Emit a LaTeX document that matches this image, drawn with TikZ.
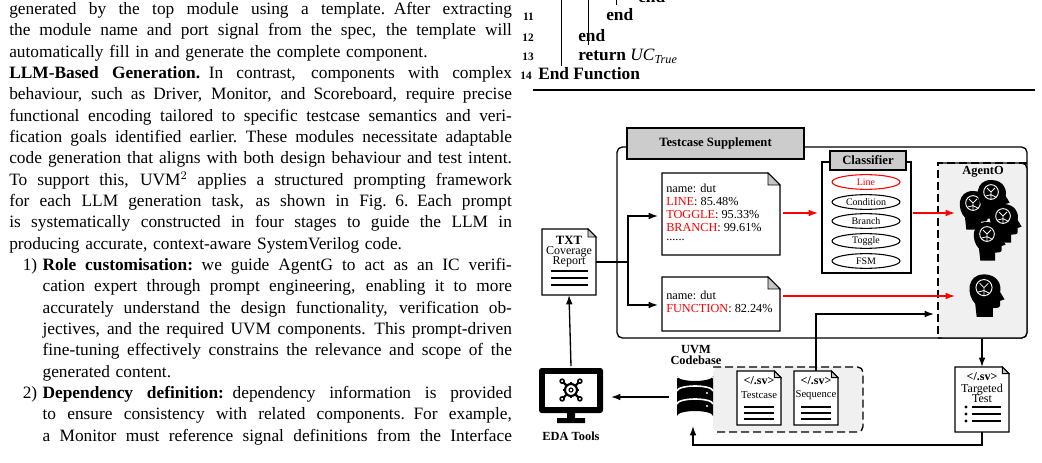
\documentclass[tikz,border=0pt]{standalone}
\usepackage{fontspec}
\setmainfont{Liberation Serif}
\usetikzlibrary{arrows.meta,shapes.geometric}
\newcommand\fsz[2]{\fontsize{#1}{#2}\selectfont}
\newcommand\jline[2]{\hbox to #1{\spaceskip=0.25em plus 1fil minus 0.08em #2}}
\newcommand\lastl[1]{\hbox{#1}}
\tikzset{
  arr/.style={-{Latex[length=7pt,width=5pt]},line width=1pt},
  rarr/.style={-{Latex[length=7pt,width=5pt]},line width=1pt,red},
  box/.style={draw,line width=1pt,inner sep=0,outer sep=0,anchor=north west},
  doc/.style={inner sep=0,outer sep=0,anchor=north west},
  ell/.style={draw,ellipse,line width=0.8pt,minimum width=51pt,minimum height=11pt,inner sep=0,font=\fsz{7.5}{8}},
  lbl/.style={font=\fsz{9.3}{10}\bfseries,inner sep=0},
}
\newcommand\docfold[2]{% node name, fold size
  \draw[line width=0.9pt,fill=white] (#1.north west) -- ([xshift=-#2]#1.north east) -- ([yshift=-#2]#1.north east) -- (#1.south east) -- (#1.south west) -- cycle;
  \draw[line width=0.7pt,fill=gray!45] ([xshift=-#2]#1.north east) -- ([yshift=-#2]#1.north east) -- ([xshift=-#2,yshift=-#2]#1.north east) -- cycle;}
\newcommand\myhead[3]{\begin{scope}[shift={(#1,#2)},x=#3pt,y=-#3pt]
  \fill[black] (-5,17) -- (-6,8) .. controls (-12,2) and (-12,-12) .. (0,-12) .. controls (10,-12) and (12,-4) .. (11,0) -- (14,5) -- (11,6) -- (11,9) .. controls (11,11) and (8,11) .. (6,11) -- (6,17) -- cycle;
  \draw[white,line width=0.7pt] (0,-3) circle (5.5);
  \draw[white,line width=0.6pt] (-3,-6) -- (0,-3) -- (3,-6) (0,-3) -- (0,3) (-4,0) -- (0,-1) -- (4,1);
\end{scope}}
\begin{document}
\begin{tikzpicture}[x=0.75pt,y=-0.75pt]
\useasboundingbox (0,0) rectangle (1042,463);
% ---------- left column text
\node[anchor=north west,inner sep=0,text width=377pt,font=\fsz{13}{16}] (col) at (9,2) {%
\vbox{\baselineskip=16pt
\jline{377pt}{generated by the top module using a template. After extracting}
\jline{377pt}{the module name and port signal from the spec, the template will}
\lastl{automatically fill in and generate the complete component.}
\jline{377pt}{\textbf{LLM-Based Generation.} In contrast, components with complex}
\jline{377pt}{behaviour, such as Driver, Monitor, and Scoreboard, require precise}
\jline{377pt}{functional encoding tailored to specific testcase semantics and veri-}
\jline{377pt}{fication goals identified earlier. These modules necessitate adaptable}
\jline{377pt}{code generation that aligns with both design behaviour and test intent.}
\jline{377pt}{To support this, UVM$^2$ applies a structured prompting framework}
\jline{377pt}{for each LLM generation task, as shown in Fig. 6. Each prompt}
\jline{377pt}{is systematically constructed in four stages to guide the LLM in}
\lastl{producing accurate, context-aware SystemVerilog code.}
\moveright25pt\jline{352pt}{\llap{1)\hspace{4pt}}\textbf{Role customisation:} we guide AgentG to act as an IC verifi-}
\moveright25pt\jline{352pt}{cation expert through prompt engineering, enabling it to more}
\moveright25pt\jline{352pt}{accurately understand the design functionality, verification ob-}
\moveright25pt\jline{352pt}{jectives, and the required UVM components. This prompt-driven}
\moveright25pt\jline{352pt}{fine-tuning effectively constrains the relevance and scope of the}
\moveright25pt\lastl{generated content.}
\moveright25pt\jline{352pt}{\llap{2)\hspace{4pt}}\textbf{Dependency definition:} dependency information is provided}
\moveright25pt\jline{352pt}{to ensure consistency with related components. For example,}
\moveright25pt\jline{352pt}{a Monitor must reference signal definitions from the Interface}
}};
% ---------- algorithm fragment
\begin{scope}[font=\fsz{13}{16}]
\draw[line width=0.6pt] (561,0) -- (561,66) (588,0) -- (588,45) (616,0) -- (616,5);
\node[anchor=base west,inner sep=0] (l10) at (638,3) {\textbf{end}};
\node[anchor=base east,inner sep=0,font=\fsz{8.5}{10}\bfseries] (n11) at (534,21) {11};
\node[anchor=base west,inner sep=0] (l11) at (606,21) {\textbf{end}};
\node[anchor=base east,inner sep=0,font=\fsz{8.5}{10}\bfseries] (n12) at (534,42) {12};
\node[anchor=base west,inner sep=0] (l12) at (578,42) {\textbf{end}};
\node[anchor=base east,inner sep=0,font=\fsz{8.5}{10}\bfseries] (n13) at (534,61) {13};
\node[anchor=base west,inner sep=0] (l13) at (578,61) {\textbf{return} \textit{UC}\textsubscript{\textit{True}}};
\node[anchor=base east,inner sep=0,font=\fsz{8.5}{10}\bfseries] (n14) at (532,80) {14};
\node[anchor=base west,inner sep=0] (l14) at (538,80) {\textbf{End Function}};
\draw[line width=1pt] (533,90) -- (1035,90);
\end{scope}
% ---------- diagram
\draw[line width=1pt,rounded corners=4pt] (617,147) rectangle (1027,338);
\fill[gray!12,rounded corners=4pt] (938,163) rectangle (1027,338);
\draw[line width=1pt,dash pattern=on 6pt off 3pt] (1027,163) -- (938,163) -- (938,338);
\draw[line width=1pt,rounded corners=4pt] (938,163) -- (1027,163) -- (1027,338) -- (938,338);
\node[lbl] (agento) at (983,172) {AgentO};
\node[box,fill=gray!40,minimum width=132.75pt,minimum height=23.25pt,font=\fsz{9.5}{10}\bfseries] (ts) at (627,128) {Testcase Supplement};
% coverage report
\node[doc,minimum width=40.5pt,minimum height=49.5pt] (rep) at (542,229) {};
\docfold{rep}{6pt}
\node[font=\fsz{9.5}{9}\bfseries,inner sep=0] (txt) at (569,240) {TXT};
\node[font=\fsz{9}{9},inner sep=0,align=center] (cov) at (569,257) {Coverage\\[-1.5pt]Report};
\draw[line width=0.8pt] (551,271) -- (588,271) (551,278) -- (588,278) (551,285) -- (588,285);
% doc1 / doc2
\node[doc,minimum width=88.5pt,minimum height=61.5pt] (d1) at (662,173) {};
\docfold{d1}{9pt}
\node[anchor=north west,inner sep=0,font=\fsz{9.2}{9.75},align=left] (d1t) at (666,184) {name: dut\\\textcolor{red}{LINE}: 85.48\%\\\textcolor{red}{TOGGLE}: 95.33\%\\\textcolor{red}{BRANCH}: 99.61\%\\[-3pt]......};
\node[doc,minimum width=88.5pt,minimum height=40.5pt] (d2) at (662,277) {};
\docfold{d2}{9pt}
\node[anchor=north west,inner sep=0,font=\fsz{9.2}{9.75},align=left] (d2t) at (666,291) {name: dut\\\textcolor{red}{FUNCTION}: 82.24\%};
\coordinate (br) at (628,262);
\draw[line width=1pt] (rep.east |- br) -- (br);
\draw[arr] (br) -- (628,216) -- (658,216);
\draw[arr] (br) -- (628,305) -- (658,305);
% classifier
\node[box,minimum width=66.75pt,minimum height=83.25pt] (cls) at (822,162) {};
\node[box,fill=gray!40,minimum width=57pt,minimum height=14.25pt,font=\fsz{9.5}{10}\bfseries] (clst) at (830,151) {Classifier};
\node[ell,red] (e1) at (866,182) {Line};
\node[ell] (e2) at (866,202) {Condition};
\node[ell] (e3) at (866,221) {Branch};
\node[ell] (e4) at (866,241) {Toggle};
\node[ell] (e5) at (866,261) {FSM};
\draw[rarr] (783,213) -- (818,213);
\draw[rarr] (913,213) -- (955,213);
% heads
\myhead{973}{207}{1.0}
\myhead{991}{196}{1.0}
\myhead{1003}{220}{1.0}
\myhead{987}{238}{1.0}
\myhead{984}{292}{1.1}
\coordinate (hd2) at (955,296);
\draw[rarr] (783,296) -- (hd2);
% codebase region
\fill[gray!12,rounded corners=4pt] (713,367) rectangle (863,432);
\draw[line width=1pt,dash pattern=on 6pt off 3pt,rounded corners=4pt] (713,367) -- (863,367) -- (863,432) -- (713,432);
\node[lbl,align=center] (uvm) at (696,355) {UVM\\[-1pt]Codebase};
% database
\node[inner sep=0,minimum width=27pt,minimum height=36pt] (db) at (695,396) {};
\fill[black] (677,376) -- (677,416) arc[start angle=180,end angle=360,x radius=18,y radius=5] -- (713,376) arc[start angle=0,end angle=180,x radius=18,y radius=5];
\draw[white,line width=1.2pt] (677,391) arc[start angle=180,end angle=360,x radius=18,y radius=5] (677,404) arc[start angle=180,end angle=360,x radius=18,y radius=5];
\draw[white,line width=0.8pt] (677,378) arc[start angle=180,end angle=360,x radius=18,y radius=4];
\fill[white] (707,393) circle (1.2) (707,406) circle (1.2);
% testcase / sequence docs
\node[doc,minimum width=33pt,minimum height=40.5pt] (tc) at (737,371) {};
\docfold{tc}{5pt}
\node[font=\fsz{9}{9}\bfseries,inner sep=0] (tcs) at (759,381) {</.sv>};
\node[font=\fsz{8}{9},inner sep=0] (tcl) at (759,395) {Testcase};
\draw[line width=0.8pt] (744,407) -- (774,407) (744,413) -- (774,413) (744,419) -- (774,419);
\node[doc,minimum width=33pt,minimum height=40.5pt] (sq) at (794,371) {};
\docfold{sq}{5pt}
\node[font=\fsz{9}{9}\bfseries,inner sep=0] (sqs) at (816,381) {</.sv>};
\node[font=\fsz{8}{9},inner sep=0] (sql) at (816,395) {Sequence};
\draw[line width=0.8pt] (801,407) -- (831,407) (801,413) -- (831,413) (801,419) -- (831,419);
\coordinate (ain) at (934,314);
\draw[arr] (sq.north) -- (816,314) -- (ain);
% targeted test
\node[doc,minimum width=40.5pt,minimum height=48.75pt] (tt) at (955,367) {};
\docfold{tt}{5pt}
\node[font=\fsz{9}{9}\bfseries,inner sep=0] (tts) at (982,377) {</.sv>};
\node[font=\fsz{9}{9},inner sep=0,align=center] (ttl) at (982,393) {Targeted\\[-1.5pt]Test};
\fill (966,407) circle (1.6) (966,414) circle (1.6) (966,421) circle (1.6);
\draw[line width=0.8pt] (972,407) -- (1001,407) (972,414) -- (1001,414) (972,421) -- (1001,421);
\coordinate (ao) at (982,339);
\draw[arr] (ao) -- (tt.north);
\draw[arr] (tt.south) -- (982,445) -- (693,445) -- (693,426);
% monitor
\node[inner sep=0,minimum width=48pt,minimum height=41pt] (mon) at (571,393) {};
\fill[black,rounded corners=2pt] (539,368) rectangle (603,413);
\fill[white] (545,374) rectangle (597,407);
\fill[black] (567,413) rectangle (575,418) (557,418) rectangle (585,423);
\begin{scope}[shift={(571,390)}]
 \draw[line width=1.6pt] (0,0) circle (6);
 \draw[line width=0.8pt] (0,0) circle (2);
 \foreach \a in {45,135,225,315}{\draw[line width=1.6pt] (\a:6) -- (\a:11); \draw[line width=1.2pt] (\a:12.5) circle (2);}
 \foreach \a in {0,90,180,270}{\draw[line width=2pt] (\a:6) -- (\a:8);}
\end{scope}
\node[lbl] (eda) at (571,436) {EDA Tools};
\coordinate (dbl) at (669,397);
\draw[arr] (dbl) -- (611,397);
\draw[arr] (571,366) -- (rep.south);
\end{tikzpicture}
\end{document}
